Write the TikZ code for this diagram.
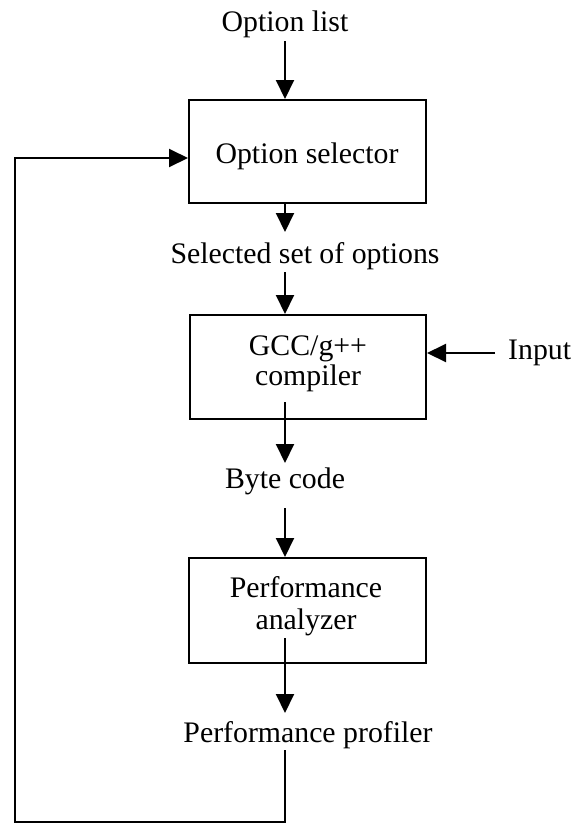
\documentclass[tikz,border=0pt]{standalone}
\usepackage{fontspec}
\setmainfont{Liberation Serif}
\usetikzlibrary{arrows.meta}
\begin{document}
\begin{tikzpicture}[x=1pt,y=-1pt,
  txt/.style={font=\fontsize{29.8}{31}\selectfont},
  box/.style={draw, line width=2pt, inner sep=0pt},
  lbl/.style={txt, inner sep=0pt, anchor=base},
  arr/.style={line width=2pt, -{Triangle[length=19pt,width=18pt]}},
  ln/.style={line width=2pt}]
\useasboundingbox (0,0) rectangle (579,823);
% boxes
\node[box, minimum width=237pt, minimum height=103pt] (sel) at (307.5,151.5) {};
\node[box, minimum width=236pt, minimum height=104pt] (gcc) at (308,367) {};
\node[box, minimum width=237pt, minimum height=105pt] (perf) at (307.5,610.5) {};
% box texts
\node[lbl] (seltxt) at (307,163) {Option selector};
\node[lbl] (gcctxt1) at (308,355) {GCC/g++};
\node[lbl] (gcctxt2) at (308,385) {compiler};
\node[lbl] (perftxt1) at (306,597) {Performance};
\node[lbl] (perftxt2) at (306,629) {analyzer};
% labels
\node[lbl] (optlist) at (285,31) {Option list};
\node[lbl] (selset) at (305,263) {Selected set of options};
\node[lbl, anchor=base west] (input) at (508,359) {Input};
\node[lbl] (byte) at (285,488) {Byte code};
\node[lbl] (prof) at (308,742) {Performance profiler};
% connector end points
\coordinate (a1) at (285,41);
\coordinate (a2s) at (285,203);
\coordinate (a2e) at (285,232);
\coordinate (a3s) at (285,272);
\coordinate (a4s) at (285,402);
\coordinate (a4e) at (285,463);
\coordinate (a5s) at (285,508);
\coordinate (a6s) at (285,638);
\coordinate (a6e) at (285,713);
\coordinate (fbs) at (285,750);
\coordinate (fb1) at (285,822);
\coordinate (fb2) at (15,822);
\coordinate (fb3) at (15,158);
\coordinate (ins) at (495,353);
% connectors
\draw[arr] (a1) -- (a1 |- sel.north);
\draw[arr] (a2s) -- (a2e);
\draw[arr] (a3s) -- (a3s |- gcc.north);
\draw[arr] (a4s) -- (a4e);
\draw[arr] (a5s) -- (a5s |- perf.north);
\draw[arr] (a6s) -- (a6e);
\draw[arr] (ins) -- (ins -| gcc.east);
\draw[arr] (fbs) -- (fb1) -- (fb2) -- (fb3) -- (fb3 -| sel.west);
\end{tikzpicture}
\end{document}
